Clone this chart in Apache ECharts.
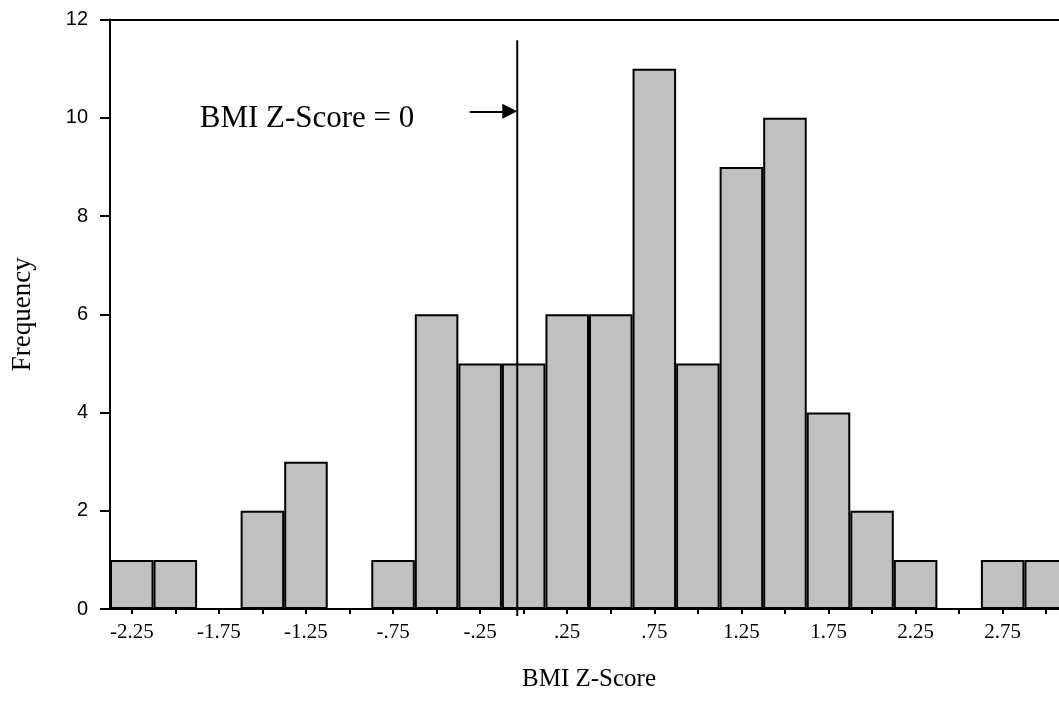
<!DOCTYPE html>
<html>
<head>
<meta charset="utf-8">
<script src="https://cdn.jsdelivr.net/npm/echarts@6/dist/echarts.min.js"></script>
<style>
  html, body { margin: 0; padding: 0; background: #fff; }
  #chart { width: 1059px; height: 717px; }
</style>
</head>
<body>
<div id="chart"></div>
<script>
// bin centres (as SPSS prints them) and counts
var categories = ['-2.25', '-2.00', '-1.75', '-1.50', '-1.25', '-1.00', '-.75', '-.50', '-.25', '.00',
  '.25', '.50', '.75', '1.00', '1.25', '1.50', '1.75', '2.00', '2.25', '2.50', '2.75', '3.00'];
var frequency = [1, 1, 0, 2, 3, 0, 1, 6, 5, 5, 6, 6, 11, 5, 9, 10, 4, 2, 1, 0, 1, 1];

// range of the bins on a numeric scale (for the reference line)
var zRange = [-2.375, 3.125];
var zeroLine = [[-0.037, -0.14], [-0.037, 11.58]];
// arrow ends where the triangle's centre sits, so its tip touches the line
var arrowLine = [[-0.31, 10.13], [-0.08, 10.13]];
var noteText = 'BMI Z-Score = 0';
var notePos = [-1.86, 9.97];

var serif = 'Liberation Serif';
var sans = 'Liberation Sans';

var chart = echarts.init(document.getElementById('chart'));

chart.setOption({
  animation: false,
  backgroundColor: '#fff',
  grid: { left: 110, top: 19.5, right: -9, bottom: 108, outerBoundsMode: 'none', containLabel: false },
  xAxis: [
    {
      type: 'category',
      data: categories,
      name: 'BMI Z-Score',
      nameLocation: 'middle',
      nameGap: 58,
      nameTextStyle: { fontFamily: serif, fontSize: 25, color: '#000' },
      axisLine: { onZero: false, lineStyle: { color: '#000', width: 2 } },
      axisTick: { show: true, alignWithLabel: true, interval: 0, length: 5, lineStyle: { color: '#000', width: 2 } },
      axisLabel: { interval: 1, margin: 13, fontFamily: serif, fontSize: 21, color: '#000' },
      splitLine: { show: false }
    },
    {
      type: 'value',
      position: 'top',
      min: zRange[0],
      max: zRange[1],
      axisLine: { show: true, onZero: false, lineStyle: { color: '#000', width: 2 } },
      axisTick: { show: false },
      axisLabel: { show: false },
      splitLine: { show: false }
    }
  ],
  yAxis: {
    type: 'value',
    min: 0,
    max: 12,
    interval: 2,
    name: 'Frequency',
    nameLocation: 'middle',
    nameGap: 74,
    nameTextStyle: { fontFamily: serif, fontSize: 27, color: '#000' },
    axisLine: { show: true, onZero: false, lineStyle: { color: '#000', width: 2 } },
    axisTick: { show: true, length: 10, lineStyle: { color: '#000', width: 2 } },
    axisLabel: { margin: 22, fontFamily: sans, fontSize: 20, color: '#000' },
    splitLine: { show: false }
  },
  series: [
    {
      type: 'bar',
      data: frequency,
      barCategoryGap: '0%',
      itemStyle: { color: '#c0c0c0', borderColor: '#000', borderWidth: 2 }
    },
    {
      type: 'line',
      xAxisIndex: 1,
      data: zeroLine,
      clip: false,
      symbol: 'none',
      lineStyle: { color: '#000', width: 2 },
      z: 5
    },
    {
      type: 'line',
      xAxisIndex: 1,
      data: [],
      markLine: {
        silent: true,
        symbol: ['none', 'triangle'],
        symbolSize: [15, 15],
        label: { show: false },
        lineStyle: { color: '#000', width: 2, type: 'solid' },
        data: [[{ coord: arrowLine[0] }, { coord: arrowLine[1] }]]
      },
      markPoint: {
        silent: true,
        symbol: 'circle',
        symbolSize: 0,
        label: {
          show: true,
          formatter: noteText,
          position: 'right',
          distance: 0,
          fontFamily: serif,
          fontSize: 31,
          color: '#000'
        },
        data: [{ coord: notePos }]
      }
    }
  ]
});
</script>
</body>
</html>
